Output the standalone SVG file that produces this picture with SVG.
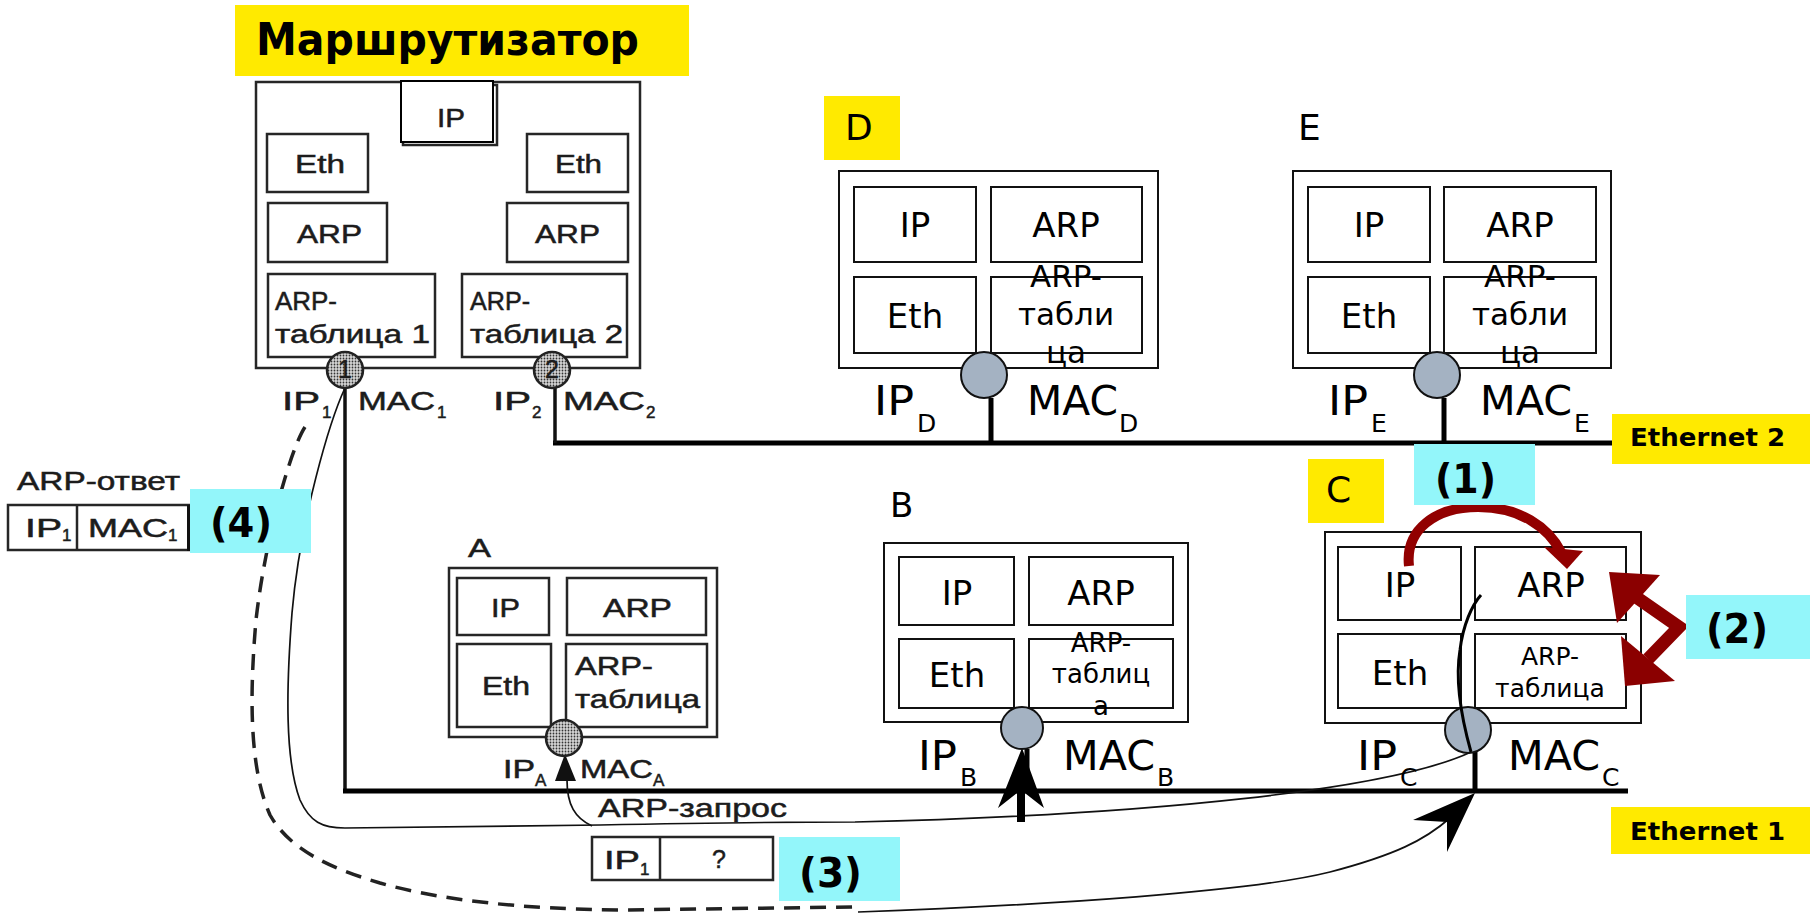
<svg xmlns="http://www.w3.org/2000/svg" width="1810" height="913" viewBox="0 0 1810 913">
<style>
.scan{font-family:"Liberation Sans",Arial,sans-serif;fill:#1c1c1c;stroke:#1c1c1c;stroke-width:0.5;font-size:25px}
.sub{font-size:17px}
.dv{font-family:"DejaVu Sans",Verdana,sans-serif;fill:#000}
.big{font-size:34px}
.tbl{font-size:31px}
.lab{font-size:40px}
.lsub{font-size:25px}
.bold{font-family:"DejaVu Sans",Verdana,sans-serif;font-weight:bold;fill:#000}
.num{font-size:40px}
.box{fill:#fff;stroke:#111;stroke-width:2}
.sbox{fill:#fff;stroke:#262626;stroke-width:2.5}
.yel{fill:#ffea00}
.cya{fill:#93f6fa}
.port{fill:#a4b2c2;stroke:#111;stroke-width:2}
.sport{fill:url(#dots);stroke:#222;stroke-width:2.5}
.net{stroke:#000;stroke-width:5;fill:none}
.thin{stroke:#111;stroke-width:1.7;fill:none}
.dash{stroke:#222;stroke-width:3.5;fill:none;stroke-dasharray:16 10}
.mid{text-anchor:middle}
</style>
<defs>
<pattern id="dots" width="3" height="3" patternUnits="userSpaceOnUse">
<rect width="3" height="3" fill="#d6d6d6"/>
<circle cx="1.5" cy="1.5" r="0.9" fill="#333"/>
</pattern>
</defs>
<rect width="1810" height="913" fill="#fff"/>

<g id="connectors">
<path class="net" d="M553,443 H1612"/>
<path d="M555,388 V443" stroke="#111" stroke-width="3.5" fill="none"/>
<path class="net" d="M991,398 V443"/>
<path class="net" d="M1444,398 V443"/>
<path d="M345,388 V791" stroke="#111" stroke-width="3.5" fill="none"/>
<path class="net" d="M343,791 H1628"/>
<path class="net" d="M1027,749 V791"/>
<path class="net" d="M1475,752 V791"/>
<path class="thin" d="M345,388 C330,420 300,520 292,613 C286,690 285,760 300,800 C310,822 322,828 345,828 L600,825 C700,823 780,822 855,822 C1150,815 1390,790 1471,752"/>
<path class="thin" d="M592,826 C575,818 567,805 567,780"/>
<polygon points="565,754 555,781 576,781" fill="#111"/>
<rect x="1017" y="788" width="8" height="34" fill="#000"/>
<polygon points="1022,748 998,808 1021,790 1044,808" fill="#000"/>
<path class="dash" d="M305,427 C290,450 265,540 256,620 C249,700 250,770 270,815 C290,850 330,868 380,883 C440,900 520,909 620,910 L855,907"/>
<path class="thin" d="M858,912 C1050,905 1250,892 1330,872 C1395,855 1425,840 1450,818"/>
<polygon points="1475,793 1413,820 1447,822 1447,852" fill="#000"/>
</g>

<g id="title">
<rect class="yel" x="235" y="5" width="454" height="71"/>
<text class="bold" x="256" y="55" font-size="44" textLength="383" lengthAdjust="spacingAndGlyphs">Маршрутизатор</text>
</g>

<g id="router">
<rect class="sbox" x="256" y="82" width="384" height="286"/>
<rect class="sbox" x="403" y="85" width="94" height="60"/>
<rect x="401" y="81" width="92" height="61" fill="#fff" stroke="#000" stroke-width="2"/>
<text class="scan" x="437" y="127" textLength="28" lengthAdjust="spacingAndGlyphs">IP</text>
<rect class="sbox" x="267" y="134" width="101" height="58"/>
<text class="scan" x="295" y="173" textLength="50" lengthAdjust="spacingAndGlyphs">Eth</text>
<rect class="sbox" x="527" y="134" width="101" height="58"/>
<text class="scan" x="555" y="173" textLength="47" lengthAdjust="spacingAndGlyphs">Eth</text>
<rect class="sbox" x="268" y="203" width="119" height="59"/>
<text class="scan" x="297" y="243" textLength="65" lengthAdjust="spacingAndGlyphs">ARP</text>
<rect class="sbox" x="507" y="203" width="121" height="59"/>
<text class="scan" x="535" y="243" textLength="65" lengthAdjust="spacingAndGlyphs">ARP</text>
<rect class="sbox" x="268" y="274" width="167" height="83"/>
<text class="scan" x="275" y="310" textLength="62" lengthAdjust="spacingAndGlyphs">ARP-</text>
<text class="scan" x="275" y="343" textLength="155" lengthAdjust="spacingAndGlyphs">таблица 1</text>
<rect class="sbox" x="462" y="274" width="165" height="83"/>
<text class="scan" x="470" y="310" textLength="60" lengthAdjust="spacingAndGlyphs">ARP-</text>
<text class="scan" x="470" y="343" textLength="153" lengthAdjust="spacingAndGlyphs">таблица 2</text>
<circle class="sport" cx="345" cy="370" r="18"/>
<text class="scan mid" x="345" y="378" font-size="20">1</text>
<circle class="sport" cx="552" cy="370" r="18"/>
<text class="scan mid" x="552" y="378" font-size="20">2</text>
<text class="scan" x="282" y="410" textLength="38" lengthAdjust="spacingAndGlyphs">IP</text>
<text class="scan sub" x="322" y="418">1</text>
<text class="scan" x="358" y="410" textLength="77" lengthAdjust="spacingAndGlyphs">MAC</text>
<text class="scan sub" x="437" y="418">1</text>
<text class="scan" x="493" y="410" textLength="38" lengthAdjust="spacingAndGlyphs">IP</text>
<text class="scan sub" x="532" y="418">2</text>
<text class="scan" x="563" y="410" textLength="82" lengthAdjust="spacingAndGlyphs">MAC</text>
<text class="scan sub" x="646" y="418">2</text>
</g>

<g id="node-A">
<text class="scan" x="468" y="557" font-size="24" textLength="23" lengthAdjust="spacingAndGlyphs">A</text>
<rect class="sbox" x="449" y="568" width="268" height="169"/>
<rect class="sbox" x="457" y="578" width="92" height="57"/>
<text class="scan" x="491" y="617" font-size="24" textLength="29" lengthAdjust="spacingAndGlyphs">IP</text>
<rect class="sbox" x="567" y="578" width="139" height="57"/>
<text class="scan" x="603" y="617" font-size="24" textLength="69" lengthAdjust="spacingAndGlyphs">ARP</text>
<rect class="sbox" x="457" y="644" width="94" height="83"/>
<text class="scan" x="482" y="695" font-size="24" textLength="48" lengthAdjust="spacingAndGlyphs">Eth</text>
<rect class="sbox" x="566" y="644" width="141" height="83"/>
<text class="scan" x="575" y="675" font-size="24" textLength="78" lengthAdjust="spacingAndGlyphs">ARP-</text>
<text class="scan" x="575" y="708" font-size="24" textLength="125" lengthAdjust="spacingAndGlyphs">таблица</text>
<circle class="sport" cx="564" cy="738" r="18"/>
<text class="scan" x="503" y="778" font-size="24" textLength="32" lengthAdjust="spacingAndGlyphs">IP</text>
<text class="scan sub" x="535" y="786">A</text>
<text class="scan" x="580" y="778" font-size="24" textLength="73" lengthAdjust="spacingAndGlyphs">MAC</text>
<text class="scan sub" x="653" y="786">A</text>
</g>

<g id="arp-reply">
<text class="scan" x="17" y="490" font-size="26" textLength="163" lengthAdjust="spacingAndGlyphs">ARP-ответ</text>
<rect class="sbox" x="8" y="505" width="181" height="45"/>
<path d="M77,505 V550" stroke="#262626" stroke-width="2.5"/>
<rect x="187" y="505" width="5" height="46" fill="#111"/>
<text class="scan" x="25" y="537" textLength="37" lengthAdjust="spacingAndGlyphs">IP</text>
<text class="scan sub" x="62" y="541">1</text>
<text class="scan" x="88" y="537" textLength="80" lengthAdjust="spacingAndGlyphs">MAC</text>
<text class="scan sub" x="168" y="541">1</text>
<rect class="cya" x="190" y="489" width="121" height="64"/>
<text class="bold num" x="210" y="537" textLength="62" lengthAdjust="spacingAndGlyphs">(4)</text>
</g>

<g id="arp-request">
<text class="scan" x="598" y="817" font-size="26" textLength="189" lengthAdjust="spacingAndGlyphs">ARP-запрос</text>
<rect class="sbox" x="592" y="837" width="181" height="43"/>
<path d="M660,837 V880" stroke="#262626" stroke-width="2.5"/>
<text class="scan" x="604" y="869" textLength="36" lengthAdjust="spacingAndGlyphs">IP</text>
<text class="scan sub" x="640" y="875">1</text>
<text class="scan" x="712" y="868">?</text>
<rect class="cya" x="779" y="837" width="121" height="64"/>
<text class="bold num" x="799" y="887" textLength="63" lengthAdjust="spacingAndGlyphs">(3)</text>
</g>

<g id="node-D">
<rect class="yel" x="824" y="96" width="76" height="64"/>
<text class="dv" x="845" y="140" font-size="36">D</text>
<rect class="box" x="839" y="171" width="319" height="197"/>
<rect class="box" x="854" y="187" width="122" height="75"/>
<rect class="box" x="991" y="187" width="151" height="75"/>
<rect class="box" x="854" y="277" width="122" height="76"/>
<rect class="box" x="991" y="277" width="151" height="76"/>
<text class="dv big mid" x="915" y="237">IP</text>
<text class="dv big mid" x="1066" y="237">ARP</text>
<text class="dv big mid" x="915" y="328">Eth</text>
<text class="dv tbl mid" x="1066" y="287">ARP-</text>
<text class="dv tbl mid" x="1066" y="325">табли</text>
<text class="dv tbl mid" x="1066" y="363">ца</text>
<circle class="port" cx="984" cy="375" r="23"/>
<text class="dv lab" x="874" y="415" textLength="40" lengthAdjust="spacingAndGlyphs">IP</text>
<text class="dv lsub" x="917" y="432">D</text>
<text class="dv lab" x="1027" y="415" textLength="91" lengthAdjust="spacingAndGlyphs">MAC</text>
<text class="dv lsub" x="1119" y="432">D</text>
</g>

<g id="node-E">
<text class="dv" x="1298" y="140" font-size="36">E</text>
<rect class="box" x="1293" y="171" width="318" height="197"/>
<rect class="box" x="1308" y="187" width="122" height="75"/>
<rect class="box" x="1444" y="187" width="152" height="75"/>
<rect class="box" x="1308" y="277" width="122" height="76"/>
<rect class="box" x="1444" y="277" width="152" height="76"/>
<text class="dv big mid" x="1369" y="237">IP</text>
<text class="dv big mid" x="1520" y="237">ARP</text>
<text class="dv big mid" x="1369" y="328">Eth</text>
<text class="dv tbl mid" x="1520" y="287">ARP-</text>
<text class="dv tbl mid" x="1520" y="325">табли</text>
<text class="dv tbl mid" x="1520" y="363">ца</text>
<circle class="port" cx="1437" cy="375" r="23"/>
<text class="dv lab" x="1328" y="415" textLength="40" lengthAdjust="spacingAndGlyphs">IP</text>
<text class="dv lsub" x="1371" y="432">E</text>
<text class="dv lab" x="1480" y="415" textLength="92" lengthAdjust="spacingAndGlyphs">MAC</text>
<text class="dv lsub" x="1574" y="432">E</text>
</g>

<g id="ethernet-2">
<rect class="yel" x="1612" y="414" width="198" height="50"/>
<text class="bold" x="1630" y="446" font-size="25" textLength="155" lengthAdjust="spacingAndGlyphs">Ethernet 2</text>
</g>

<g id="node-B">
<text class="dv" x="890" y="517" font-size="34">B</text>
<rect class="box" x="884" y="543" width="304" height="179"/>
<rect class="box" x="899" y="557" width="115" height="68"/>
<rect class="box" x="1029" y="557" width="144" height="68"/>
<rect class="box" x="899" y="639" width="115" height="69"/>
<rect class="box" x="1029" y="639" width="144" height="69"/>
<text class="dv big mid" x="957" y="605">IP</text>
<text class="dv big mid" x="1101" y="605">ARP</text>
<text class="dv big mid" x="957" y="687">Eth</text>
<text class="dv mid" x="1101" y="652" font-size="26">ARP-</text>
<text class="dv mid" x="1101" y="683" font-size="26">таблиц</text>
<text class="dv mid" x="1101" y="715" font-size="26">а</text>
<circle class="port" cx="1022" cy="728" r="21"/>
<text class="dv lab" x="918" y="770" textLength="39" lengthAdjust="spacingAndGlyphs">IP</text>
<text class="dv lsub" x="960" y="786">B</text>
<text class="dv lab" x="1063" y="770" textLength="92" lengthAdjust="spacingAndGlyphs">MAC</text>
<text class="dv lsub" x="1157" y="786">B</text>
</g>

<g id="node-C">
<rect class="yel" x="1308" y="459" width="76" height="64"/>
<text class="dv" x="1326" y="502" font-size="36">C</text>
<rect class="box" x="1325" y="532" width="316" height="191"/>
<rect class="box" x="1338" y="547" width="123" height="73"/>
<rect class="box" x="1475" y="547" width="151" height="73"/>
<rect class="box" x="1338" y="634" width="123" height="74"/>
<rect class="box" x="1475" y="634" width="151" height="74"/>
<text class="dv big mid" x="1400" y="597">IP</text>
<text class="dv big mid" x="1551" y="597">ARP</text>
<text class="dv big mid" x="1400" y="685">Eth</text>
<text class="dv mid" x="1550" y="665" font-size="25">ARP-</text>
<text class="dv mid" x="1550" y="697" font-size="25">таблица</text>
<circle class="port" cx="1468" cy="730" r="23"/>
<path d="M1471,752 C1462,720 1455,680 1460,650 C1463,625 1472,605 1481,595" stroke="#000" stroke-width="3" fill="none"/>
<text class="dv lab" x="1357" y="770" textLength="40" lengthAdjust="spacingAndGlyphs">IP</text>
<text class="dv lsub" x="1400" y="786">C</text>
<text class="dv lab" x="1508" y="770" textLength="92" lengthAdjust="spacingAndGlyphs">MAC</text>
<text class="dv lsub" x="1602" y="786">C</text>
</g>

<g id="step-1">
<path d="M1409,566 C1405,530 1435,507 1478,507 C1520,507 1548,527 1561,552" stroke="#920000" stroke-width="10" fill="none"/>
<polygon points="1544,547 1583,551 1567,569" fill="#920000"/>
<rect class="cya" x="1414" y="444" width="121" height="61"/>
<text class="bold num" x="1435" y="493" textLength="61" lengthAdjust="spacingAndGlyphs">(1)</text>
</g>

<g id="step-2">
<polyline points="1636,597 1679,627 1648,659" stroke="#8b0000" stroke-width="13" fill="none" stroke-linejoin="miter"/>
<polygon points="1609,572 1660,575 1617,623" fill="#8b0000"/>
<polygon points="1625,686 1621,636 1675,681" fill="#8b0000"/>
<rect class="cya" x="1686" y="595" width="124" height="64"/>
<text class="bold num" x="1706" y="643" textLength="62" lengthAdjust="spacingAndGlyphs">(2)</text>
</g>

<g id="ethernet-1">
<rect class="yel" x="1611" y="807" width="199" height="47"/>
<text class="bold" x="1630" y="840" font-size="25" textLength="155" lengthAdjust="spacingAndGlyphs">Ethernet 1</text>
</g>
</svg>
